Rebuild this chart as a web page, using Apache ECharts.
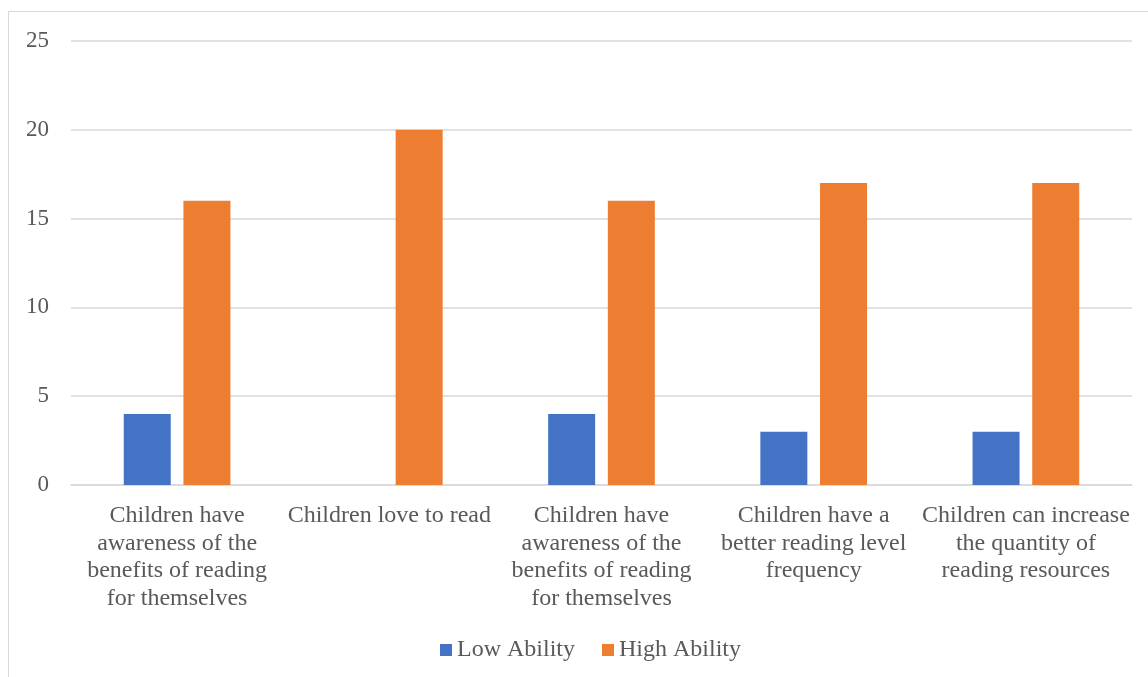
<!DOCTYPE html>
<html>
<head>
<meta charset="utf-8">
<script src="https://cdn.jsdelivr.net/npm/echarts@6/dist/echarts.min.js"></script>
<style>
  html, body { margin: 0; padding: 0; background: #ffffff; }
  #frame {
    position: absolute; left: 8px; top: 11px; width: 1160px; height: 700px;
    border: 1.5px solid #d9d9d9; box-sizing: border-box;
  }
  #chart { position: absolute; left: 0; top: 0; width: 1148px; height: 677px; }
</style>
</head>
<body>
<div id="frame"></div>
<div id="chart"></div>
<script>
// Statements about children's reading, grouped by ability level
const categories = [
  'Children have\nawareness of the\nbenefits of reading\nfor themselves',
  'Children love to read',
  'Children have\nawareness of the\nbenefits of reading\nfor themselves',
  'Children have a\nbetter reading level\nfrequency',
  'Children can increase\nthe quantity of\nreading resources'
];
const lowAbility = [4, 0, 4, 3, 3];
const highAbility = [16, 20, 16, 17, 17];
const seriesNames = ['Low Ability', 'High Ability'];

const textColor = '#595959';
const fontFamily = '"Liberation Serif", "Times New Roman", serif';

const chart = echarts.init(document.getElementById('chart'), null, { renderer: 'canvas' });
chart.setOption({
  animation: false,
  textStyle: { fontFamily: fontFamily, color: textColor },
  grid: { left: 71, right: 16, top: 41, bottom: 192, containLabel: false },
  legend: {
    data: seriesNames,
    left: 435,
    top: 633,
    icon: 'rect',
    itemWidth: 12,
    itemHeight: 12,
    itemGap: 27,
    textStyle: { fontFamily: fontFamily, fontSize: 24, color: textColor }
  },
  xAxis: {
    type: 'category',
    data: categories,
    axisLine: { show: true, lineStyle: { color: '#d9d9d9', width: 1.5 } },
    axisTick: { show: false },
    axisLabel: {
      interval: 0,
      margin: 17,
      fontFamily: fontFamily,
      fontSize: 24,
      lineHeight: 27.5,
      color: textColor,
      align: 'center'
    }
  },
  yAxis: {
    type: 'value',
    min: 0,
    max: 25,
    interval: 5,
    axisLine: { show: false },
    axisTick: { show: false },
    splitLine: { lineStyle: { color: '#d9d9d9', width: 1.5 } },
    axisLabel: { margin: 22, fontFamily: fontFamily, fontSize: 23, color: textColor }
  },
  series: [
    {
      name: seriesNames[0],
      type: 'bar',
      data: lowAbility,
      barWidth: 47,
      barGap: '27%',
      itemStyle: { color: '#4472c4' }
    },
    {
      name: seriesNames[1],
      type: 'bar',
      data: highAbility,
      barWidth: 47,
      barGap: '27%',
      itemStyle: { color: '#ed7d31' }
    }
  ]
});
</script>
</body>
</html>
